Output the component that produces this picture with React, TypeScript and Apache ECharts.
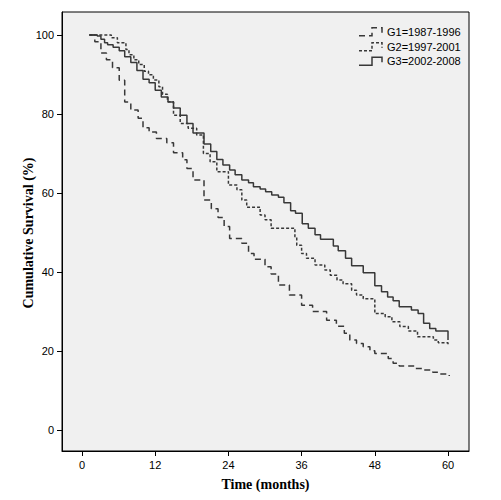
import React, { useEffect, useRef } from "react";
import * as echarts from "echarts";

const X_TICKS = [0, 12, 24, 36, 48, 60];
const Y_TICKS = [0, 20, 40, 60, 80, 100];

const SERIES_NAMES = ["G1=1987-1996", "G2=1997-2001", "G3=2002-2008"];
const Y_TITLE = "Cumulative Survival (%)";
const X_TITLE = "Time (months)";

const G1_T = [1.2, 2.1, 3.1, 4.0, 5.0, 6.1, 7.0, 8.0, 9.2, 10.0, 11.0, 12.2, 13.9, 15.0, 16.5, 17.2, 18.2, 20.0, 21.2, 22.3, 23.3, 24.2, 26.2, 27.3, 28.2, 30.0, 31.0, 32.2, 34.0, 36.0, 37.8, 40.1, 41.7, 43.0, 43.9, 45.0, 46.1, 47.2, 48.0, 50.2, 51.0, 52.0, 54.6, 56.0, 57.5, 58.7, 60.2];
const G1_S = [100, 98.3, 95.4, 93.7, 91.7, 88.5, 83.0, 81.0, 78.9, 76.5, 75.4, 73.8, 72.7, 70.2, 68.4, 66.2, 63.3, 58.2, 56.0, 53.8, 51.5, 48.5, 47.3, 44.7, 43.2, 41.3, 39.5, 36.7, 34.2, 31.6, 30.0, 27.8, 26.3, 24.5, 22.8, 21.9, 21.1, 20.1, 19.4, 18.1, 16.9, 16.2, 15.6, 15.2, 14.6, 14.2, 13.7];

const G2_T = [1.2, 4.8, 5.8, 7.2, 7.7, 8.5, 9.3, 10.2, 10.9, 11.7, 12.6, 13.2, 14.0, 15.0, 16.1, 17.4, 18.8, 19.9, 21.0, 22.1, 24.0, 25.4, 26.2, 27.0, 29.2, 30.0, 31.0, 34.9, 35.2, 36.0, 36.8, 38.2, 39.8, 40.7, 41.8, 42.8, 44.2, 45.0, 46.1, 48.0, 49.7, 50.8, 52.1, 53.5, 55.0, 57.6, 58.4, 60.0];
const G2_S = [100, 99.3, 98.0, 96.3, 95.0, 93.7, 92.5, 90.8, 89.9, 88.6, 86.9, 85.0, 83.1, 79.7, 77.6, 76.4, 74.7, 70.0, 67.9, 65.4, 62.0, 60.8, 58.2, 56.4, 54.4, 53.2, 51.1, 48.9, 46.8, 44.7, 43.5, 41.8, 40.5, 39.2, 38.0, 37.0, 35.4, 34.2, 33.2, 29.5, 28.7, 27.4, 26.2, 25.1, 23.6, 22.8, 22.1, 21.5];

const G3_T = [1.2, 2.5, 3.1, 3.7, 4.2, 5.1, 6.1, 7.0, 8.0, 9.0, 10.0, 11.0, 12.0, 13.0, 14.1, 15.0, 16.1, 17.2, 18.2, 20.0, 21.1, 22.1, 23.1, 24.2, 25.1, 26.2, 27.3, 28.1, 29.2, 30.1, 31.1, 32.2, 33.1, 34.2, 35.0, 36.1, 37.1, 38.2, 39.1, 41.2, 42.0, 43.2, 44.2, 46.1, 48.0, 49.1, 50.1, 51.0, 52.0, 54.0, 55.1, 56.0, 57.0, 58.0, 60.0];
const G3_S = [100, 99.7, 98.9, 98.0, 97.5, 96.9, 96.0, 94.5, 93.0, 91.0, 88.8, 87.9, 86.0, 84.3, 83.0, 81.5, 79.7, 77.6, 75.2, 72.4, 70.5, 68.5, 67.1, 65.8, 64.6, 63.3, 62.6, 61.6, 61.0, 60.3, 59.5, 58.9, 57.5, 55.5, 54.9, 52.2, 51.1, 49.4, 48.3, 46.6, 45.4, 43.5, 41.6, 39.8, 36.5, 35.0, 33.7, 32.7, 31.2, 30.4, 29.5, 27.0, 25.7, 25.1, 22.8];

const pairs = (t: number[], s: number[]) => t.map((v, i) => [v, s[i]]);

const LINE_COLOR = "#383838";
const DASHES: (number[] | "solid")[] = [[6, 4], [3, 2], "solid"];
const SERIF = "'Liberation Serif', 'Times New Roman', serif";
const SANS = "'Liberation Sans', Arial, sans-serif";

export default function App() {
  const ref = useRef<HTMLDivElement>(null);
  useEffect(() => {
    if (!ref.current) return;
    const chart = echarts.init(ref.current, null, { renderer: "svg" });
    const data = [pairs(G1_T, G1_S), pairs(G2_T, G2_S), pairs(G3_T, G3_S)];
    const legendY = [31.7, 46.7, 61.3];
    const graphics: any[] = [];
    SERIES_NAMES.forEach((name, i) => {
      const yc = legendY[i];
      const dash = DASHES[i];
      graphics.push({
        type: "polyline",
        shape: {
          points: [
            [359, yc + 4],
            [372, yc + 4],
            [372, yc - 4],
            [382, yc - 4],
            [382, yc + 1],
          ],
        },
        style: {
          stroke: LINE_COLOR,
          lineWidth: 1.5,
          fill: null,
          lineDash: dash === "solid" ? null : dash,
        },
        z: 100,
      });
      graphics.push({
        type: "text",
        x: 387,
        y: yc,
        style: {
          text: name,
          font: `11px ${SANS}`,
          fill: "#000",
          verticalAlign: "middle",
          align: "left",
        },
        z: 100,
      });
    });
    graphics.push({
      type: "text",
      x: 28,
      y: 233,
      rotation: Math.PI / 2,
      style: {
        text: Y_TITLE,
        font: `bold 14px ${SERIF}`,
        fill: "#000",
        align: "center",
        verticalAlign: "middle",
      },
      z: 100,
    });
    chart.setOption({
      animation: false,
      backgroundColor: "#ffffff",
      grid: {
        left: 62,
        top: 12,
        width: 407,
        height: 439,
        show: true,
        backgroundColor: "#f0f0f0",
        borderColor: "#000",
        borderWidth: 1,
      },
      xAxis: {
        type: "value",
        min: -3.28,
        max: 63.44,
        name: X_TITLE,
        nameLocation: "middle",
        nameGap: 26,
        nameTextStyle: {
          fontFamily: SERIF,
          fontWeight: "bold",
          fontSize: 14,
          color: "#000",
        },
        axisLine: { show: true, onZero: false, lineStyle: { color: "#000", width: 1 } },
        axisTick: { show: true, length: 5, customValues: X_TICKS, lineStyle: { color: "#000" } },
        axisLabel: {
          customValues: X_TICKS,
          margin: 8,
          fontFamily: SANS,
          fontSize: 11,
          color: "#000",
        },
        splitLine: { show: false },
      },
      yAxis: {
        type: "value",
        min: -5.3,
        max: 105.8,
        axisLine: { show: true, onZero: false, lineStyle: { color: "#000", width: 1 } },
        axisTick: { show: true, length: 5, customValues: Y_TICKS, lineStyle: { color: "#000" } },
        axisLabel: {
          customValues: Y_TICKS,
          margin: 8,
          fontFamily: SANS,
          fontSize: 11,
          color: "#000",
        },
        splitLine: { show: false },
      },
      series: SERIES_NAMES.map((name, i) => ({
        name,
        type: "line",
        step: "end",
        data: data[i],
        showSymbol: false,
        symbol: "none",
        lineStyle: { color: LINE_COLOR, width: 1.5, type: DASHES[i] },
        z: 3 - i + 2,
      })),
      graphic: graphics,
    });
    return () => chart.dispose();
  }, []);
  return (
    <div
      ref={ref}
      style={{ position: "fixed", left: 0, top: 0, width: 501, height: 500, background: "#fff" }}
    />
  );
}
